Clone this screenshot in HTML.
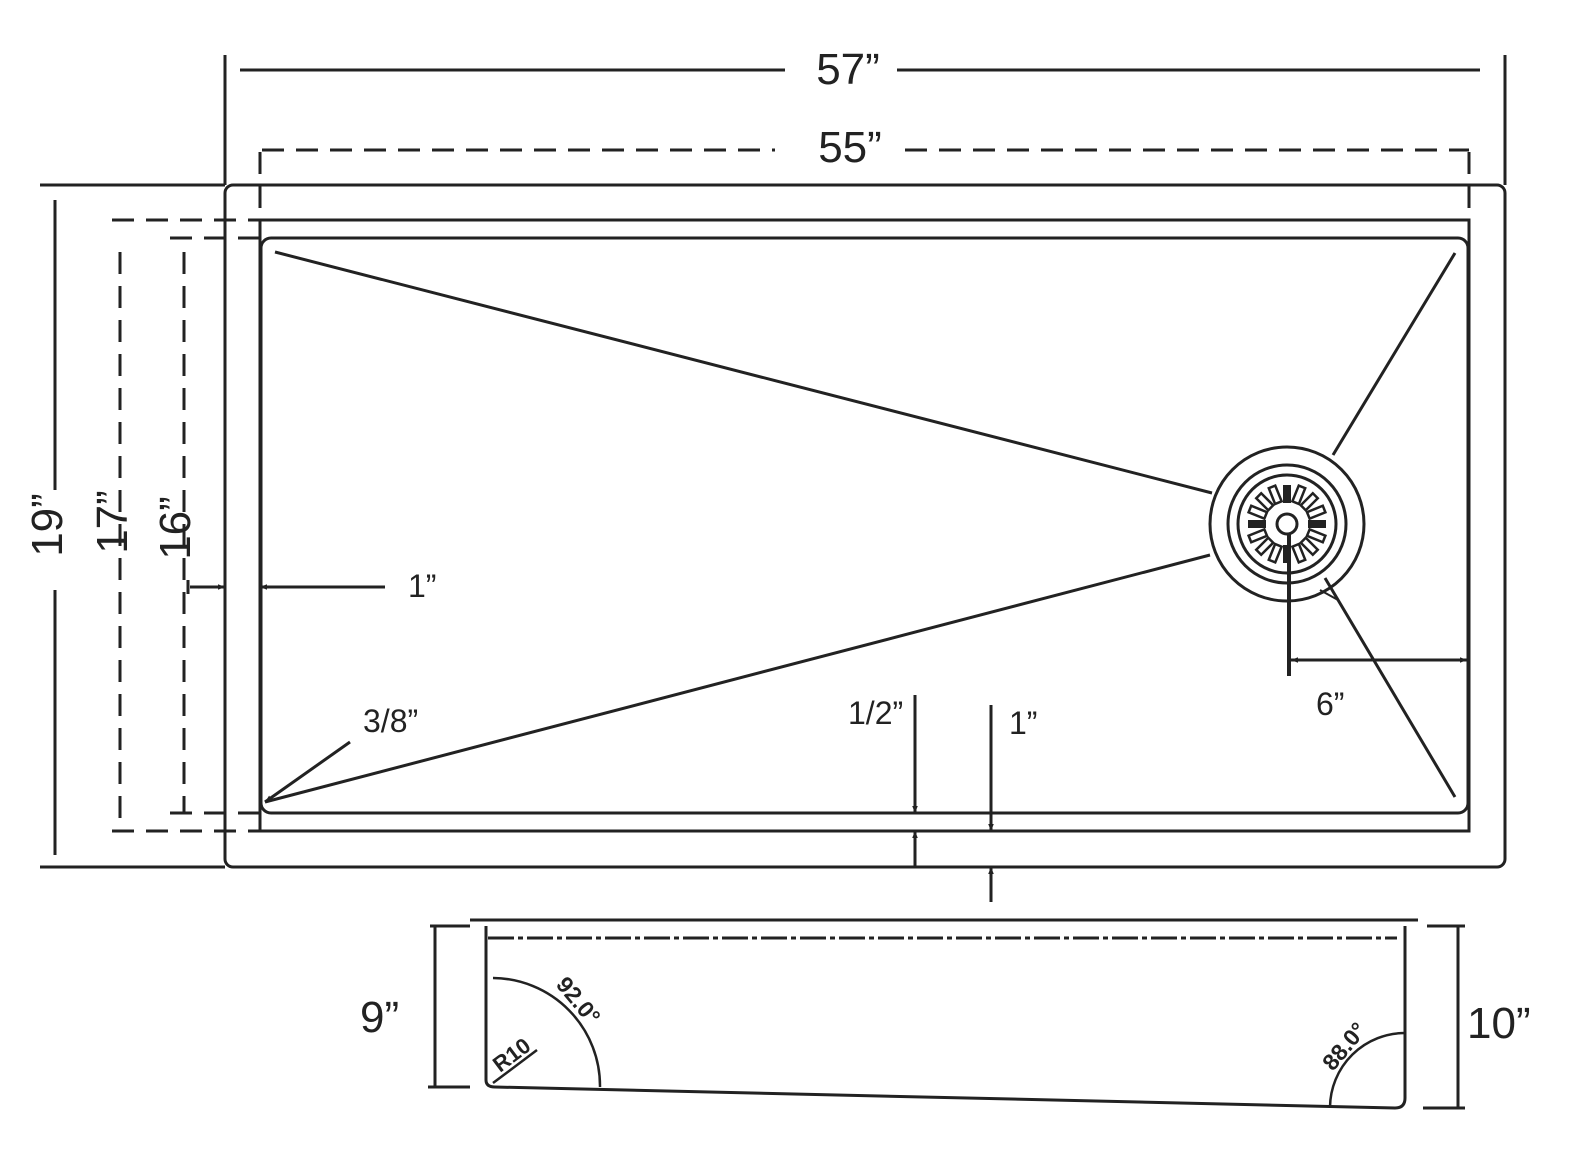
<!DOCTYPE html>
<html><head><style>
html,body{margin:0;padding:0;background:#fff;}
svg{display:block;}
text{font-family:"Liberation Sans",sans-serif;fill:#222;}
</style></head><body>
<svg width="1570" height="1160" viewBox="0 0 1570 1160" xmlns="http://www.w3.org/2000/svg">
<defs>
<marker id="ar" viewBox="0 0 10 10" refX="10" refY="5" markerWidth="12" markerHeight="7" orient="auto-start-reverse" markerUnits="userSpaceOnUse">
<path d="M0,1 L10,5 L0,9 Z" fill="#222"/></marker>
</defs>
<g stroke="#222" fill="none" stroke-width="3">
<line x1="240" y1="70" x2="785" y2="70"/><line x1="897" y1="70" x2="1480" y2="70"/>
<line x1="225" y1="55" x2="225" y2="185"/><line x1="1505" y1="55" x2="1505" y2="185"/>
<g stroke-dasharray="22,12">
<line x1="262" y1="150" x2="775" y2="150"/><line x1="905" y1="150" x2="1469" y2="150"/>
<line x1="260" y1="152" x2="260" y2="220"/><line x1="1469" y1="152" x2="1469" y2="220"/>
<line x1="112" y1="220" x2="260" y2="220"/><line x1="112" y1="831" x2="260" y2="831"/>
<line x1="170" y1="238" x2="260" y2="238"/><line x1="170" y1="813" x2="260" y2="813"/>
<line x1="120" y1="252" x2="120" y2="831"/><line x1="184" y1="252" x2="184" y2="813"/>
</g>
<rect x="225" y="185" width="1280" height="682" rx="8"/>
<rect x="260" y="220" width="1209" height="611"/>
<rect x="261" y="238" width="1207" height="575" rx="10"/>
<line x1="40" y1="185" x2="225" y2="185"/><line x1="40" y1="867" x2="225" y2="867"/>
<line x1="55" y1="200" x2="55" y2="490"/><line x1="55" y1="590" x2="55" y2="855"/>
<line x1="275" y1="252" x2="1212" y2="493"/>
<line x1="265" y1="802" x2="1210" y2="555"/>
<line x1="1333" y1="455" x2="1455" y2="253"/>
<line x1="1325" y1="578" x2="1455" y2="797"/>
<line x1="1320" y1="590" x2="1338" y2="600" stroke-width="2"/>
<circle cx="1287" cy="524" r="77"/>
<circle cx="1287" cy="524" r="59"/>
<circle cx="1287" cy="524" r="49"/>
<circle cx="1287" cy="524" r="10"/>
<line x1="1289" y1="534" x2="1289" y2="676" stroke-width="4"/>
<line x1="1291" y1="660" x2="1467" y2="660" marker-start="url(#ar)" marker-end="url(#ar)"/>
<line x1="188" y1="580" x2="188" y2="594"/>
<line x1="190" y1="587" x2="225" y2="587" marker-end="url(#ar)"/>
<line x1="385" y1="587" x2="260" y2="587" marker-end="url(#ar)"/>
<line x1="350" y1="742" x2="265" y2="802" marker-end="url(#ar)"/>
<line x1="915" y1="695" x2="915" y2="813" marker-end="url(#ar)"/>
<line x1="915" y1="867" x2="915" y2="831" marker-end="url(#ar)"/>
<line x1="991" y1="705" x2="991" y2="831" marker-end="url(#ar)"/>
<line x1="991" y1="902" x2="991" y2="867" marker-end="url(#ar)"/>
<line x1="470" y1="920" x2="1418" y2="920"/>
<line x1="486" y1="926" x2="486" y2="1080"/>
<path d="M486,1080 Q486,1087 495,1087 L1395,1108 Q1405,1108 1405,1098 L1405,926"/>
<line x1="488" y1="938" x2="1397" y2="938" stroke-dasharray="26,4,5,4"/>
<path d="M493,978 A108,108 0 0 1 600,1087" stroke-width="2.5"/>
<line x1="493" y1="1083" x2="537" y2="1050" stroke-width="2.5"/>
<path d="M1405,1033 A75,75 0 0 0 1330,1107" stroke-width="2.5"/>
<line x1="435" y1="926" x2="435" y2="1087"/>
<line x1="430" y1="926" x2="470" y2="926"/><line x1="428" y1="1087" x2="470" y2="1087"/>
<line x1="1458" y1="926" x2="1458" y2="1108"/>
<line x1="1427" y1="926" x2="1465" y2="926"/><line x1="1423" y1="1108" x2="1465" y2="1108"/>
</g>
<g fill="#222">
<rect x="1283" y="485" width="8" height="18"/><rect x="1283" y="545" width="8" height="18"/>
<rect x="1248" y="520" width="18" height="8"/><rect x="1308" y="520" width="18" height="8"/>
<g fill="none" stroke="#222" stroke-width="2.5">
<rect x="-3.5" y="-40" width="7" height="17" transform="translate(1287,524) rotate(22)"/>
<rect x="-3.5" y="-40" width="7" height="17" transform="translate(1287,524) rotate(45)"/>
<rect x="-3.5" y="-40" width="7" height="17" transform="translate(1287,524) rotate(68)"/>
<rect x="-3.5" y="-40" width="7" height="17" transform="translate(1287,524) rotate(112)"/>
<rect x="-3.5" y="-40" width="7" height="17" transform="translate(1287,524) rotate(135)"/>
<rect x="-3.5" y="-40" width="7" height="17" transform="translate(1287,524) rotate(158)"/>
<rect x="-3.5" y="-40" width="7" height="17" transform="translate(1287,524) rotate(202)"/>
<rect x="-3.5" y="-40" width="7" height="17" transform="translate(1287,524) rotate(225)"/>
<rect x="-3.5" y="-40" width="7" height="17" transform="translate(1287,524) rotate(248)"/>
<rect x="-3.5" y="-40" width="7" height="17" transform="translate(1287,524) rotate(292)"/>
<rect x="-3.5" y="-40" width="7" height="17" transform="translate(1287,524) rotate(315)"/>
<rect x="-3.5" y="-40" width="7" height="17" transform="translate(1287,524) rotate(338)"/>
</g>
</g>
<text x="848" y="84" font-size="44" text-anchor="middle">57”</text>
<text x="850" y="162" font-size="44" text-anchor="middle">55”</text>
<text transform="translate(62,525) rotate(-90)" font-size="44" text-anchor="middle">19”</text>
<text transform="translate(127,522) rotate(-90)" font-size="44" text-anchor="middle">17”</text>
<text transform="translate(190,528) rotate(-90)" font-size="44" text-anchor="middle">16”</text>
<text x="408" y="597" font-size="32">1”</text>
<text x="363" y="732" font-size="32">3/8”</text>
<text x="848" y="724" font-size="32">1/2”</text>
<text x="1009" y="734" font-size="32">1”</text>
<text x="1316" y="715" font-size="32">6”</text>
<text x="360" y="1032" font-size="44">9”</text>
<text x="1467" y="1038" font-size="44">10”</text>
<text transform="translate(555,985) rotate(50)" font-size="23" font-weight="bold">92.0°</text>
<text transform="translate(1333,1072) rotate(-50)" font-size="23" font-weight="bold">88.0°</text>
<text transform="translate(500,1073) rotate(-37)" font-size="22" font-weight="bold">R10</text>
</svg>
</body></html>
